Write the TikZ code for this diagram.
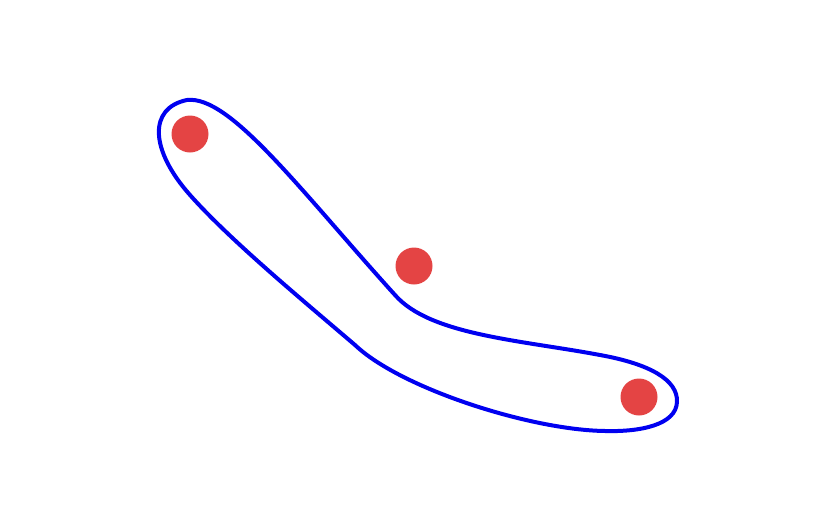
\documentclass[tikz,border=0pt]{standalone}
\usepackage{tikz}
\definecolor{dotred}{RGB}{228,68,68}
\definecolor{hullblue}{RGB}{0,0,240}
\tikzset{
  pt/.style={circle,fill=dotred,minimum size=37\unit,inner sep=0pt},
  hull/.style={draw=hullblue,line width=4\unit,line join=round}
}
\newcommand{\unit}{*0.03cm}
\begin{document}
\begin{tikzpicture}[x=0.03cm,y=-0.03cm]
  \useasboundingbox (0,0) rectangle (830,530);
  % the three points
  \node[pt] (p1) at (190,134) {};
  \node[pt] (p2) at (414,266) {};
  \node[pt] (p3) at (639,397) {};
  % closed curve round p1 and p3
  \draw[hull] (187,100)
    .. controls (230,95) and (300,190) .. (395,295)
    .. controls (430,335) and (520,340) .. (600,355)
    .. controls (650,364) and (678,380) .. (677,402)
    .. controls (676,425) and (640,432) .. (605,431)
    .. controls (530,430) and (400,388) .. (355,345)
    .. controls (300,298) and (230,240) .. (190,195)
    .. controls (150,150) and (148,108) .. (187,100) -- cycle;
\end{tikzpicture}
\end{document}
